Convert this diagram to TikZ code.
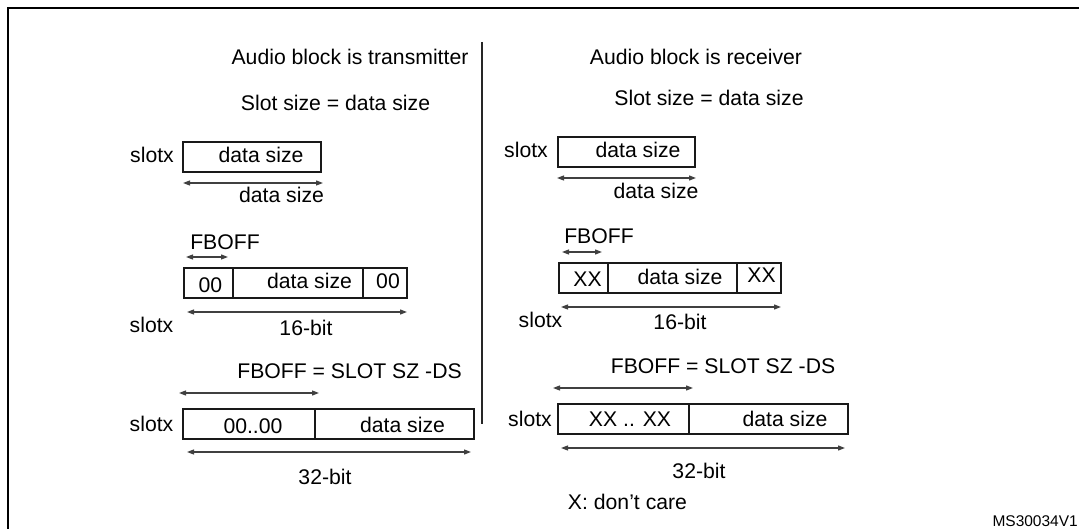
\documentclass[tikz,border=0pt]{standalone}
\usepackage{fontspec}
\setmainfont{Liberation Sans}
\usetikzlibrary{arrows.meta}

\begin{document}
\begin{tikzpicture}[x=1pt,y=-1pt,
	lbl/.style={anchor=base,inner sep=0pt,font=\fontsize{21.2}{25}\selectfont},
	field/.style={draw=black!90,line width=1.8pt,anchor=north west,inner sep=0pt,minimum height=30pt},
	dimarrow/.style={draw=black!75,line width=1.2pt,{Triangle[length=7pt,width=5pt]}-{Triangle[length=7pt,width=5pt]}}]
		\useasboundingbox (0,0) rectangle (1079,529);
		\draw[line width=2.5pt] (8,530)--(8,8)--(1080,8);
		\coordinate (divtop) at (482,42); \coordinate (divbot) at (482,424);
		\draw[line width=1.8pt,black!85] (divtop)--(divbot);
		% transmitter
		\node[lbl] (txhead) at (350,65) {Audio block is transmitter};
		\node[lbl] (txeq) at (335.5,111) {Slot size = data size};
		\node[field,minimum width=138pt] (tx1) at (182,141) {};
		\node[lbl] (tx1slot) at (152,163) {slotx};
		\node[lbl] (tx1ds) at (261,163) {data size};
		\coordinate (tx1l) at (183,183); \coordinate (tx1r) at (323,183);
		\draw[dimarrow] (tx1l)--(tx1r);
		\node[lbl] (tx1w) at (281.5,203) {data size};
		\node[lbl] (tx2off) at (225,250) {FBOFF};
		\coordinate (tx2ol) at (186,257); \coordinate (tx2or) at (228,257);
		\draw[dimarrow] (tx2ol)--(tx2or);
		\node[field,minimum width=49pt] (tx2a) at (183,267) {};
		\node[field,minimum width=130pt] (tx2b) at (232,267) {};
		\node[field,minimum width=44pt] (tx2c) at (362,267) {};
		\node[lbl] (tx2pa) at (210.5,293) {00};
		\node[lbl] (tx2ds) at (309.5,289) {data size};
		\node[lbl] (tx2pb) at (388,289) {00};
		\coordinate (tx2l) at (187,312); \coordinate (tx2r) at (407,312);
		\draw[dimarrow] (tx2l)--(tx2r);
		\node[lbl] (tx2slot) at (151.5,332) {slotx};
		\node[lbl] (tx2w) at (306,335) {16-bit};
		\node[lbl] (tx3off) at (349.5,378) {FBOFF = SLOT SZ -DS};
		\coordinate (tx3ol) at (179,393); \coordinate (tx3or) at (319,393);
		\draw[dimarrow] (tx3ol)--(tx3or);
		\node[field,minimum width=132pt] (tx3a) at (182,408) {};
		\node[field,minimum width=159pt] (tx3b) at (314,408) {};
		\node[lbl] (tx3slot) at (151.5,431) {slotx};
		\node[lbl] (tx3pad) at (253,433) {00..00};
		\node[lbl] (tx3ds) at (402.5,432) {data size};
		\coordinate (tx3l) at (187,452); \coordinate (tx3r) at (471,452);
		\draw[dimarrow] (tx3l)--(tx3r);
		\node[lbl] (tx3w) at (325,484) {32-bit};
		% receiver
		\node[lbl] (rxhead) at (696,65) {Audio block is receiver};
		\node[lbl] (rxeq) at (709,106) {Slot size = data size};
		\node[field,minimum width=137pt] (rx1) at (557,136) {};
		\node[lbl] (rx1slot) at (526,158) {slotx};
		\node[lbl] (rx1ds) at (638,158) {data size};
		\coordinate (rx1l) at (557,178); \coordinate (rx1r) at (696,178);
		\draw[dimarrow] (rx1l)--(rx1r);
		\node[lbl] (rx1w) at (656,199) {data size};
		\node[lbl] (rx2off) at (599,244) {FBOFF};
		\coordinate (rx2ol) at (562,252); \coordinate (rx2or) at (602,252);
		\draw[dimarrow] (rx2ol)--(rx2or);
		\node[field,minimum width=49pt] (rx2a) at (558,262) {};
		\node[field,minimum width=129pt] (rx2b) at (607,262) {};
		\node[field,minimum width=44pt] (rx2c) at (736,262) {};
		\node[lbl] (rx2pa) at (587.5,287) {XX};
		\node[lbl] (rx2ds) at (680,285) {data size};
		\node[lbl] (rx2pb) at (761.5,283) {XX};
		\coordinate (rx2l) at (561,307); \coordinate (rx2r) at (781,307);
		\draw[dimarrow] (rx2l)--(rx2r);
		\node[lbl] (rx2slot) at (540.5,327) {slotx};
		\node[lbl] (rx2w) at (680,330) {16-bit};
		\node[lbl] (rx3off) at (723,373) {FBOFF = SLOT SZ -DS};
		\coordinate (rx3ol) at (553,388); \coordinate (rx3or) at (693,388);
		\draw[dimarrow] (rx3ol)--(rx3or);
		\node[field,minimum width=131pt] (rx3a) at (557,403) {};
		\node[field,minimum width=159pt] (rx3b) at (688,403) {};
		\node[lbl] (rx3slot) at (530,426) {slotx};
		\node[lbl] (rx3pad) at (630,426) {XX .. XX};
		\node[lbl] (rx3ds) at (785,426) {data size};
		\coordinate (rx3l) at (561,448); \coordinate (rx3r) at (845,448);
		\draw[dimarrow] (rx3l)--(rx3r);
		\node[lbl] (rx3w) at (699,478) {32-bit};
		\node[lbl] (dontcare) at (627.5,509) {X: don't care};
		\node[lbl,anchor=base east,font=\fontsize{15.5}{18}\selectfont] (figid) at (1078,526) {MS30034V1};
\end{tikzpicture}
\end{document}
